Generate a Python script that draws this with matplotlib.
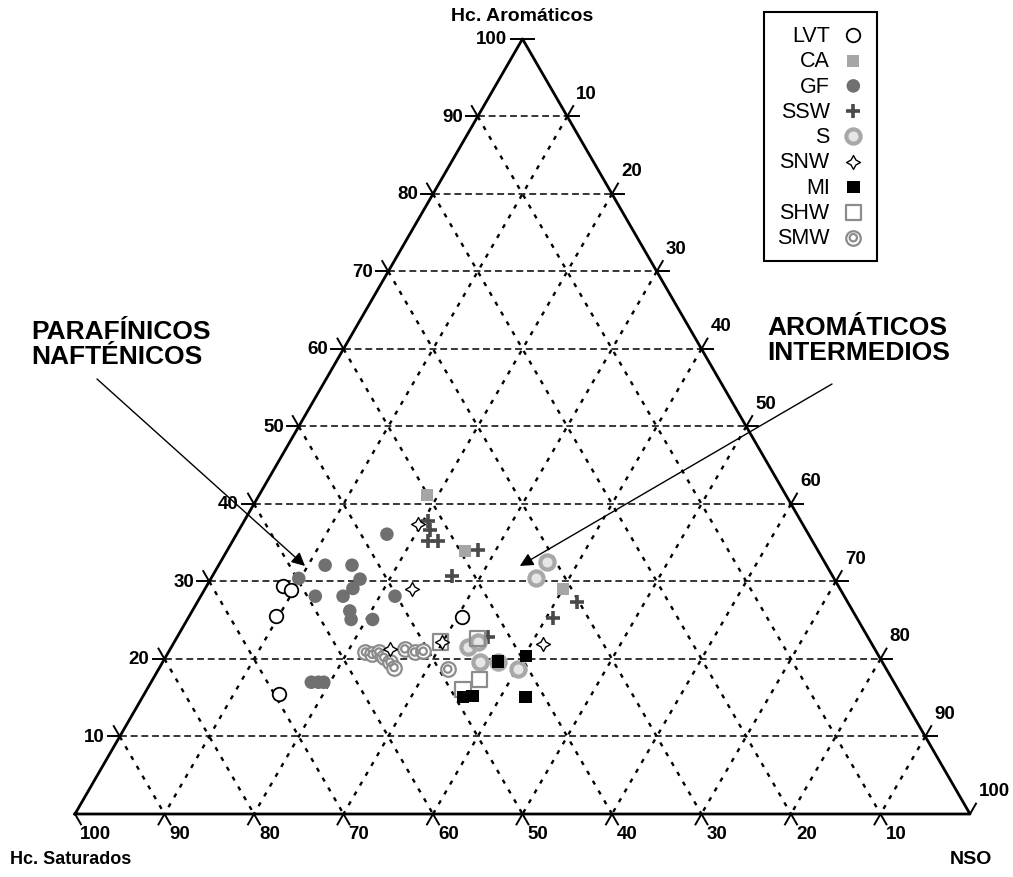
import numpy as np
import matplotlib
matplotlib.use('Agg')
import matplotlib.pyplot as plt

plt.rcParams['font.family'] = ['Liberation Sans', 'DejaVu Sans']

# composition of each sample: (Saturados, Aromaticos, NSO) in %
LVT = [(69.5, 15.5, 15.0), (64.8, 25.5, 9.7), (62.1, 29.4, 8.5), (61.4, 28.9, 9.7), (44.1, 25.4, 30.5)]
CA = [(40.1, 41.2, 18.7), (39.5, 33.9, 26.6), (31.0, 29.0, 40.0)]
GF = [
    (56.0, 32.1, 11.9), (53.0, 32.1, 14.9), (53.0, 30.3, 16.7), (54.4, 29.1, 16.5),
    (56.0, 28.1, 15.9), (59.1, 28.1, 12.8), (59.8, 30.4, 9.8), (47.1, 36.1, 16.8),
    (56.2, 26.2, 17.6), (56.6, 25.1, 18.3), (54.2, 25.1, 20.7), (50.2, 28.1, 21.7),
    (65.1, 17.0, 17.9), (64.3, 17.0, 18.7), (63.7, 17.0, 19.3),
]
SSW = [
    (41.7, 37.8, 20.5), (42.0, 36.7, 21.3), (43.0, 35.2, 21.8), (41.8, 35.2, 23.0),
    (37.9, 34.1, 28.0), (42.5, 30.7, 26.8), (30.2, 27.4, 42.4), (33.9, 25.3, 40.8),
    (42.5, 22.8, 34.7),
]
S = [
    (31.0, 32.5, 36.5), (33.3, 30.4, 36.3), (41.1, 18.7, 40.2), (45.3, 21.5, 33.2),
    (43.9, 22.2, 33.9), (45.0, 19.6, 35.4), (42.9, 19.6, 37.5),
]
SNW = [(47.8, 29.0, 23.2), (54.1, 21.3, 24.6), (43.0, 37.4, 19.6), (36.8, 21.9, 41.3), (47.9, 22.2, 29.9)]
MI = [(42.9, 19.7, 37.4), (39.4, 20.4, 40.2), (49.1, 15.1, 35.8), (48.0, 15.2, 36.8), (42.1, 15.1, 42.8)]
SHW = [(48.1, 22.2, 29.7), (43.7, 22.6, 33.7), (46.1, 17.4, 36.5), (48.6, 16.1, 35.3)]
SMW = [
    (57.1, 20.9, 22.0), (56.5, 20.6, 22.9), (55.6, 20.9, 23.5), (55.4, 20.2, 24.4),
    (55.0, 19.6, 25.4), (54.9, 18.9, 26.2), (52.5, 21.3, 26.2), (51.6, 20.9, 27.5),
    (49.0, 18.7, 32.3), (50.6, 21.0, 28.4),
]

TICKS = list(range(10, 101, 10))
H = np.sqrt(3) / 2


def tern(points):
    p = np.asarray(points, dtype=float)
    p = p / p.sum(axis=1, keepdims=True) * 100
    return p[:, 2] + p[:, 1] / 2, p[:, 1] * H


def pt(sat, aro, nso):
    x, y = tern([(sat, aro, nso)])
    return x[0], y[0]


fig = plt.figure(figsize=(10.13, 8.78), dpi=100)
ax = fig.add_axes([0, 0, 1, 1])
px = 8.95
ax.set_xlim(-75 / px, (1013 - 75) / px)
ax.set_ylim(-63 / px, (878 - 63) / px)
ax.axis('off')

# grid
for v in range(10, 100, 10):
    ax.plot(*zip(pt(100 - v, v, 0), pt(0, v, 100 - v)), color='black', lw=1.1, ls=(0, (4.5, 2.5)), zorder=1)
    ax.plot(*zip(pt(v, 100 - v, 0), pt(v, 0, 100 - v)), color='black', lw=1.7, ls=(0, (1.8, 3)), zorder=1)
    ax.plot(*zip(pt(0, 100 - v, v), pt(100 - v, 0, v)), color='black', lw=1.7, ls=(0, (1.8, 3)), zorder=1)

# frame
tri = [pt(100, 0, 0), pt(0, 100, 0), pt(0, 0, 100), pt(100, 0, 0)]
ax.plot(*zip(*tri), color='black', lw=2.0, zorder=2)

L = 12 / px
tk = dict(color='black', lw=1.4, zorder=2)
lab = dict(fontsize=13.5, fontweight='bold')
for v in TICKS:
    # left: Aromaticos
    x, y = pt(100 - v, v, 0)
    ax.plot([x, x - L], [y, y], **tk)
    if v < 100:
        ax.plot([x, x - 0.5 * L], [y, y + H * L], **tk)
    ax.text(x - 15 / px, y, str(v), ha='right', va='center', **lab)
    # bottom: Saturados
    x, y = pt(v, 0, 100 - v)
    ax.plot([x, x + 0.5 * L], [y, y - H * L], **tk)
    if v < 100:
        ax.plot([x, x - 0.5 * L], [y, y - H * L], **tk)
    ax.text(x + 5 / px, y - 20 / px, str(v), ha='left', va='center', **lab)
    # right: NSO
    x, y = pt(0, 100 - v, v)
    if v < 100:
        ax.plot([x, x + L], [y, y], **tk)
    ax.plot([x, x + 0.5 * L], [y, y + H * L], **tk)
    ax.text(x + 9 / px, y + 23 / px, str(v), ha='left', va='center', **lab)
x, y = pt(0, 100, 0)
ax.plot([x, x + L], [y, y], **tk)

ax.text(*pt(0, 100, 0) + np.array([0, 23 / px]), 'Hc. Aromáticos', ha='center', va='center',
        fontsize=14, fontweight='bold')
ax.text(-65 / px, -45 / px, 'Hc. Saturados', ha='left', va='center', fontsize=13, fontweight='bold')
ax.text(100.1, -45 / px, 'NSO', ha='center', va='center', fontsize=14, fontweight='bold')

# samples
h_gf = ax.scatter(*tern(GF), s=95, c='#707070', edgecolors='none', zorder=3)
h_ca = ax.scatter(*tern(CA), s=75, marker='s', c='#a6a6a6', edgecolors='none', zorder=3)
h_lvt = ax.scatter(*tern(LVT), s=95, facecolors='white', edgecolors='black', lw=1.3, zorder=3)
h_ssw = ax.scatter(*tern(SSW), s=110, marker='+', c='#4a4a4a', lw=2.6, zorder=4)
h_smw = ax.scatter(*tern(SMW), s=110, facecolors='white', edgecolors='#8c8c8c', lw=1.6, zorder=4)
h_smw2 = ax.scatter(*tern(SMW), s=28, facecolors='none', edgecolors='#8c8c8c', lw=1.6, zorder=4)
h_s = ax.scatter(*tern(S), s=105, facecolors='#e6e6e6', edgecolors='#a8a8a8', lw=3, zorder=4)
h_shw = ax.scatter(*tern(SHW), s=120, marker='s', facecolors='none', edgecolors='#8c8c8c', lw=1.6, zorder=5)
h_snw = ax.scatter(*tern(SNW), s=100, marker=(4, 1, 0), facecolors='white', edgecolors='black', lw=1.0, zorder=5)
h_mi = ax.scatter(*tern(MI), s=80, marker='s', c='black', edgecolors='none', zorder=6)

leg = ax.legend(
    [h_lvt, h_ca, h_gf, h_ssw, h_s, h_snw, h_mi, h_shw, (h_smw, h_smw2)],
    ['LVT', 'CA', 'GF', 'SSW', 'S', 'SNW', 'MI', 'SHW', 'SMW'],
    loc='upper right', bbox_to_anchor=(877 / 1013, 1 - 13 / 878), bbox_transform=fig.transFigure,
    markerfirst=False, fontsize=15.5, labelspacing=0.2, handlelength=1.0, handletextpad=0.6,
    borderpad=0.6, borderaxespad=0, fancybox=False, edgecolor='black', framealpha=1, scatterpoints=1,
)
leg.get_frame().set_linewidth(1.5)

# class labels
ax.text(-44 / px, (815 - 320) / px, 'PARAFÍNICOS\nNAFTÉNICOS', ha='left', va='top', fontsize=19,
        fontweight='bold', linespacing=1.05)
ax.text((767 - 75) / px, (815 - 316) / px, 'AROMÁTICOS\nINTERMEDIOS', ha='left', va='top', fontsize=19,
        fontweight='bold', linespacing=1.05)
arrow = dict(arrowstyle='-|>', color='black', lw=1.0, mutation_scale=20, shrinkA=0, shrinkB=0)
ax.annotate('', xy=pt(58.3, 32.0, 9.7), xytext=(22 / px, (815 - 380) / px), arrowprops=arrow)
ax.annotate('', xy=pt(34.3, 32.0, 33.7), xytext=((832 - 75) / px, (815 - 385) / px), arrowprops=arrow)

fig.savefig('out.png', dpi=100, facecolor='white')
